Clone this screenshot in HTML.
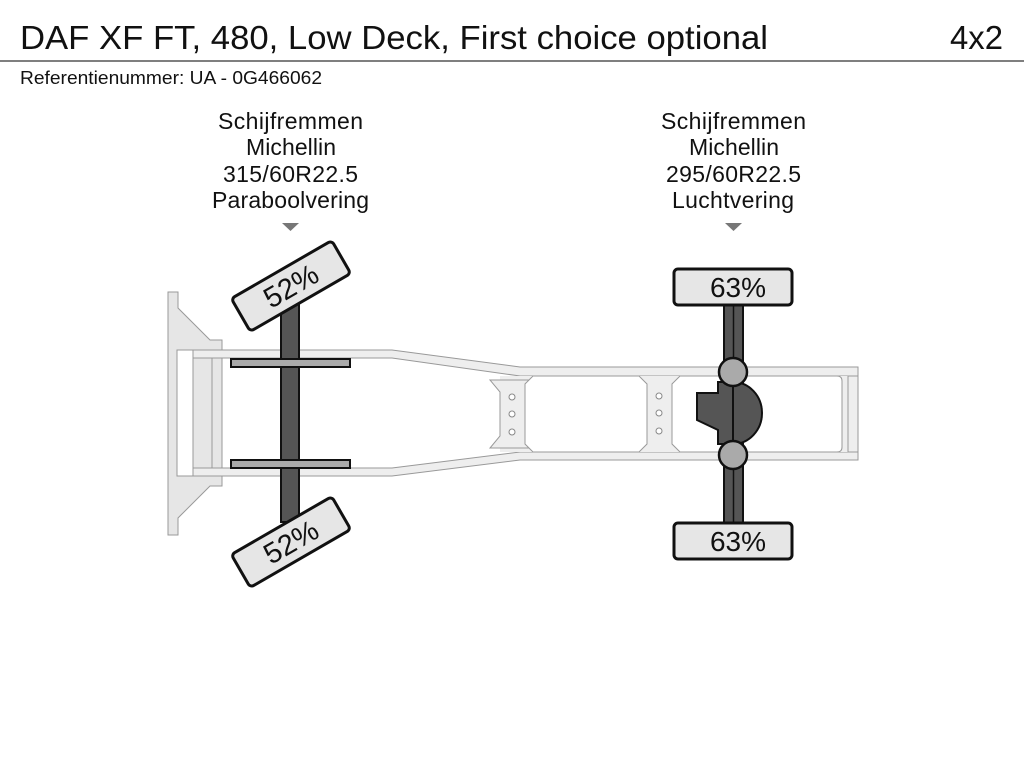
<!DOCTYPE html>
<html><head><meta charset="utf-8"><style>
body{margin:0;width:1024px;height:768px;background:#fff;overflow:hidden;font-family:"Liberation Sans",sans-serif}
</style></head><body>
<svg width="1024" height="768" viewBox="0 0 1024 768" xmlns="http://www.w3.org/2000/svg" font-family="Liberation Sans, sans-serif">
<text x="20" y="49" font-size="33" fill="#111" textLength="748" lengthAdjust="spacingAndGlyphs">DAF XF FT, 480, Low Deck, First choice optional</text>
<text x="950" y="49" font-size="33" fill="#111" textLength="53" lengthAdjust="spacingAndGlyphs">4x2</text>
<line x1="0" y1="61" x2="1024" y2="61" stroke="#555" stroke-width="1.5"/>
<text x="20" y="84" font-size="18" fill="#111" textLength="302" lengthAdjust="spacingAndGlyphs">Referentienummer: UA - 0G466062</text>
<g font-size="23" fill="#111" lengthAdjust="spacingAndGlyphs">
<text x="218" y="129" textLength="145">Schijfremmen</text><text x="246" y="155" textLength="90">Michellin</text><text x="223" y="182" textLength="135">315/60R22.5</text><text x="212" y="208" textLength="157">Paraboolvering</text>
<text x="661" y="129" textLength="145">Schijfremmen</text><text x="689" y="155" textLength="90">Michellin</text><text x="666" y="182" textLength="135">295/60R22.5</text><text x="672" y="208" textLength="122">Luchtvering</text>
</g>
<polygon points="282,223 299,223 290.5,231" fill="#777"/>
<polygon points="725,223 742,223 733.5,231" fill="#777"/>
<path d="M168,292 H178 V308 L210,340 H222 V486 H210 L178,518 V535 H168 Z" fill="#e6e6e6" stroke="#999" stroke-width="1"/>
<rect x="177" y="350" width="16" height="126" fill="#fff" stroke="#999"/>
<rect x="193" y="358" width="19" height="110" fill="#e6e6e6" stroke="#999"/>
<path d="M193,350 H392 L520,367 H858 V376 H520 L392,358 H193 Z" fill="#eee" stroke="#999"/>
<path d="M193,468 H392 L520,452 H858 V460 H520 L392,476 H193 Z" fill="#eee" stroke="#999"/>
<rect x="500" y="376" width="358" height="76" fill="#eee" stroke="none"/>
<rect x="848" y="376" width="10" height="76" fill="#eee" stroke="#999"/>
<path d="M490,380 L500,392 V436 L490,448 H536 L526,436 V392 L536,380 Z" fill="#eee" stroke="#999"/>
<path d="M533,376 H639 L647,384 V444 L639,452 H533 L525,444 V384 Z" fill="#fff" stroke="#999"/>
<path d="M680,376 H837 Q842,376 842,381 V447 Q842,452 837,452 H680 L672,444 V384 Z" fill="#fff" stroke="#999"/>
<g fill="#fff" stroke="#888"><circle cx="512" cy="397" r="3"/><circle cx="512" cy="414" r="3"/><circle cx="512" cy="432" r="3"/>
<circle cx="659" cy="396" r="3"/><circle cx="659" cy="413" r="3"/><circle cx="659" cy="431" r="3"/></g>
<rect x="281" y="300" width="18" height="222" fill="#555" stroke="#111" stroke-width="2"/>
<rect x="231" y="359" width="119" height="8" fill="#aaa" stroke="#111" stroke-width="2"/>
<rect x="231" y="460" width="119" height="8" fill="#aaa" stroke="#111" stroke-width="2"/>
<g transform="translate(291,286) rotate(-30)"><rect x="-58" y="-19" width="116" height="38" rx="4" fill="#e6e6e6" stroke="#111" stroke-width="3"/><text x="0" y="10" font-size="29" text-anchor="middle" fill="#111">52%</text></g>
<g transform="translate(291,542) rotate(-30)"><rect x="-58" y="-19" width="116" height="38" rx="4" fill="#e6e6e6" stroke="#111" stroke-width="3"/><text x="0" y="10" font-size="29" text-anchor="middle" fill="#111">52%</text></g>
<rect x="724" y="303" width="19" height="222" fill="#555" stroke="#111" stroke-width="2"/>
<line x1="733.5" y1="303" x2="733.5" y2="525" stroke="#111" stroke-width="1.5"/>
<path d="M718,382 H733 V444 H718 V430 L697,420 V393 H718 Z" fill="#555" stroke="#111" stroke-width="2"/>
<path d="M733,382 A29,31 0 0 1 733,444 Z" fill="#555" stroke="#111" stroke-width="2"/>
<circle cx="733" cy="372" r="14" fill="#aaa" stroke="#111" stroke-width="2.5"/>
<circle cx="733" cy="455" r="14" fill="#aaa" stroke="#111" stroke-width="2.5"/>
<rect x="674" y="269" width="118" height="36" rx="4" fill="#e6e6e6" stroke="#111" stroke-width="3"/>
<text x="738" y="297" font-size="28" text-anchor="middle" fill="#111">63%</text>
<rect x="674" y="523" width="118" height="36" rx="4" fill="#e6e6e6" stroke="#111" stroke-width="3"/>
<text x="738" y="551" font-size="28" text-anchor="middle" fill="#111">63%</text>
</svg>
</body></html>
